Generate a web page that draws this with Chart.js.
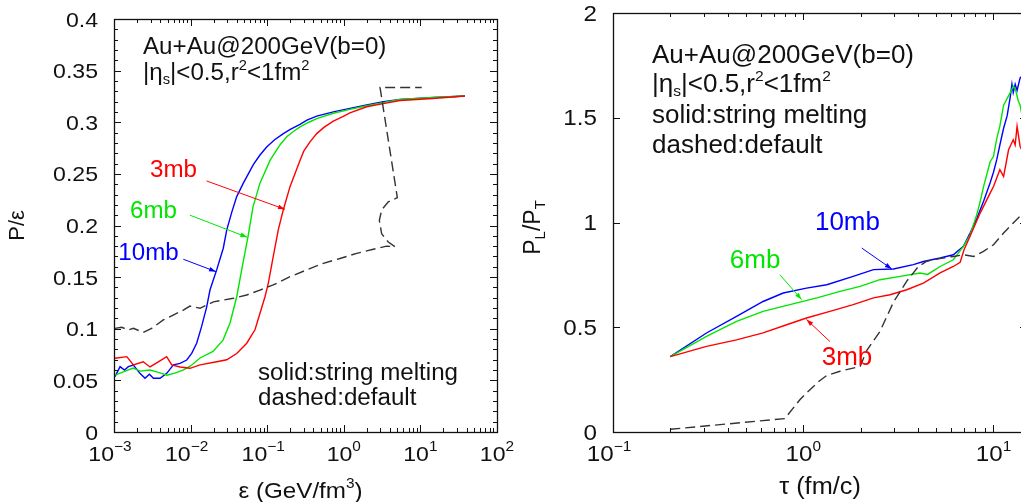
<!DOCTYPE html>
<html><head><meta charset="utf-8">
<script src="https://cdn.jsdelivr.net/npm/chart.js@4/dist/chart.umd.min.js"></script>
<style>
html,body{margin:0;padding:0;overflow:hidden;background:#fff;width:1021px;height:502px;position:relative;}
#c1{position:absolute;left:0;top:0;}
#c2{position:absolute;left:500px;top:0;}
</style></head><body>
<canvas id="c1" width="520" height="502"></canvas>
<canvas id="c2" width="540" height="502"></canvas>
<script>
// ---------- LEFT PANEL DATA : P/eps vs eps ----------
const epsMb10 = [0.00103,0.0012,0.00137,0.00154,0.00179,0.00218,0.00254,0.0029,0.00327,0.00399,0.00488,0.00596,0.00728,0.0089,0.01033,0.012,0.0139,0.0162,0.0179,0.0219,0.0267,0.0296,0.0345,0.04,0.0488,0.0659,0.08,0.0984,0.125,0.1625,0.2,0.268,0.33,0.443,0.73,1.2,1.99,3.28,5.4,14.8,38.2];
const peMb10  = [0.0536,0.0633,0.060,0.0633,0.0649,0.0568,0.052,0.056,0.052,0.052,0.0568,0.065,0.0665,0.0697,0.0762,0.0859,0.102,0.121,0.1375,0.157,0.178,0.1956,0.213,0.228,0.241,0.259,0.268,0.276,0.283,0.289,0.293,0.298,0.302,0.306,0.310,0.3135,0.3167,0.320,0.3222,0.324,0.3254];
const epsMb6 = [0.00103,0.0013,0.00177,0.0022,0.00295,0.0037,0.00492,0.0062,0.00796,0.01,0.01327,0.0196,0.0265,0.0327,0.040,0.0483,0.0561,0.0653,0.0805,0.1088,0.13,0.15,0.18,0.22,0.268,0.35,0.443,0.73,1.2,1.99,3.28,5.4,14.8,38.2];
const peMb6  = [0.055,0.058,0.062,0.059,0.060,0.058,0.055,0.057,0.060,0.064,0.0717,0.078,0.089,0.1056,0.131,0.1637,0.189,0.218,0.241,0.263,0.272,0.279,0.286,0.291,0.2955,0.300,0.3035,0.3087,0.3125,0.316,0.319,0.322,0.324,0.3254];
const epsMb3 = [0.00103,0.00147,0.00179,0.00241,0.00295,0.00379,0.00487,0.00567,0.00728,0.00982,0.01327,0.0219,0.0296,0.040,0.054,0.0693,0.0805,0.0936,0.1033,0.120,0.1397,0.162,0.1985,0.268,0.3,0.362,0.443,0.55,0.73,1.0,1.2,1.99,3.28,5.42,14.5,38.2];
const peMb3  = [0.0714,0.073,0.065,0.068,0.063,0.068,0.073,0.065,0.063,0.0617,0.065,0.068,0.070,0.076,0.086,0.099,0.115,0.131,0.144,0.170,0.196,0.215,0.2376,0.263,0.272,0.281,0.289,0.295,0.301,0.306,0.309,0.315,0.318,0.321,0.323,0.3254];
const epsDef = [0.00103,0.00126,0.00154,0.00179,0.00241,0.0031,0.0044,0.00594,0.00803,0.0098,0.01327,0.0198,0.0361,0.054,0.0805,0.12,0.1985,0.328,0.54,0.891,1.47,2.43,3.62,4.66,3.81,3.12,2.91,3.12,3.81,5.0,2.97,10.4];
const peDef  = [0.1004,0.1014,0.0988,0.1004,0.0965,0.1004,0.1085,0.1133,0.118,0.122,0.1198,0.126,0.1295,0.1327,0.1375,0.1424,0.1504,0.157,0.1634,0.168,0.173,0.177,0.180,0.1795,0.184,0.192,0.205,0.215,0.223,0.227,0.3337,0.3337];
const leftYTicks = [0,0.05,0.1,0.15,0.2,0.25,0.3,0.35,0.4];
const leftYLabels = ["0","0.05","0.1","0.15","0.2","0.25","0.3","0.35","0.4"];
const leftXExps = [-3,-2,-1,0,1,2];

// ---------- RIGHT PANEL DATA : PL/PT vs tau ----------
const tauMb10 = [0.2,0.31,0.446,0.615,0.785,1.04,1.33,1.83,2.34,2.98,3.79,4.28,5.24,6.15,6.95,7.53,8.18,8.86,9.6,10.0,10.4,10.8,11.3,11.8,12.25,12.5,12.7,13.0,13.3,13.8,14.2];
const rMb10   = [0.36,0.4726,0.552,0.623,0.6635,0.687,0.703,0.743,0.775,0.778,0.799,0.814,0.8305,0.846,0.886,0.95,1.02,1.1,1.19,1.24,1.30,1.37,1.45,1.51,1.6,1.66,1.62,1.66,1.63,1.69,1.70];
const tauMb6 = [0.2,0.31,0.446,0.615,0.851,1.18,1.56,1.99,2.53,3.23,4.11,4.5,4.8,5.24,6.15,6.95,7.53,8.18,8.51,8.86,9.6,10.0,10.4,10.8,11.3,12.25,12.7,13.0,13.5,13.8,14.2];
const rMb6   = [0.36,0.456,0.528,0.576,0.608,0.64,0.671,0.695,0.727,0.743,0.759,0.752,0.768,0.79,0.822,0.886,0.94,1.04,1.1,1.17,1.29,1.316,1.40,1.46,1.56,1.62,1.65,1.64,1.58,1.56,1.5];
const tauMb3 = [0.2,0.31,0.446,0.615,0.818,1.04,1.38,1.83,2.34,2.86,3.5,4.28,5.24,6.15,6.68,7.0,7.53,8.51,9.6,10.0,10.8,11.3,12.0,12.7,13.0,13.3,13.8,14.2];
const rMb3   = [0.36,0.409,0.44,0.473,0.512,0.544,0.576,0.608,0.64,0.655,0.679,0.711,0.759,0.79,0.81,0.87,0.934,1.045,1.14,1.172,1.252,1.22,1.347,1.395,1.37,1.459,1.363,1.34];
const tauDef = [0.2,0.8,0.96,1.04,1.22,1.33,1.56,1.99,2.16,2.53,2.98,3.5,4.03,4.46,4.82,5.4,6.15,6.95,7.87,8.86,10.0,11.3,12.7,13.8,14.2];
const rDef   = [0.013,0.064,0.154,0.186,0.245,0.27,0.29,0.313,0.39,0.48,0.62,0.72,0.79,0.815,0.822,0.83,0.838,0.846,0.838,0.862,0.894,0.95,0.998,1.03,1.04];
const rightYTicks = [0,0.5,1,1.5,2];
const rightYLabels = ["0","0.5","1","1.5","2"];
const rightXExps = [-1,0,1];

// label anchors + arrows (data coordinates)
const leftNotes = [
  {t:"3mb", c:"#ff0000", at:[0.00295,0.247], from:[0.0162,0.2431], to:[0.1706,0.2157]},
  {t:"6mb", c:"#00e600", at:[0.00162,0.2073], from:[0.0098,0.21], to:[0.055,0.1886]},
  {t:"10mb", c:"#0000ff", at:[0.00114,0.1666], from:[0.00803,0.1673], to:[0.0215,0.1553]}
];
const rightNotes = [
  {t:"10mb", c:"#0000ff", at:[1.152,0.966], from:[2.03,0.878], to:[2.92,0.778]},
  {t:"6mb", c:"#00e600", at:[0.411,0.783], from:[0.753,0.751], to:[0.98,0.632]},
  {t:"3mb", c:"#ff0000", at:[1.25,0.321], from:[1.38,0.432], to:[1.04,0.537]}
];

const FONT = '"Liberation Sans", Arial, Helvetica, sans-serif';
function pts(xs, ys){ return xs.map((x,i)=>({x:x, y:ys[i]})); }

function rich(ctx, parts, x, y, align, sx){
  let w = 0;
  parts.forEach(p=>{ ctx.font = p.s + 'px ' + FONT; p.w = ctx.measureText(p.t).width * sx; w += p.w; });
  let x0 = align==='center' ? x - w/2 : (align==='right' ? x - w : x);
  parts.forEach(p=>{
    ctx.font = p.s + 'px ' + FONT;
    ctx.save(); ctx.translate(x0, y + (p.dy||0)); ctx.scale(sx,1);
    ctx.textAlign='left'; ctx.textBaseline='alphabetic';
    ctx.fillText(p.t, 0, 0); ctx.restore();
    x0 += p.w;
  });
  return w;
}

function arrow(ctx, x1,y1,x2,y2,color){
  ctx.save(); ctx.strokeStyle=color; ctx.fillStyle=color; ctx.lineWidth=1;
  ctx.beginPath(); ctx.moveTo(x1,y1); ctx.lineTo(x2,y2); ctx.stroke();
  const ang=Math.atan2(y2-y1,x2-x1), L=7, H=2.3;
  ctx.beginPath(); ctx.moveTo(x2,y2);
  ctx.lineTo(x2-L*Math.cos(ang)+H*Math.sin(ang), y2-L*Math.sin(ang)-H*Math.cos(ang));
  ctx.lineTo(x2-L*Math.cos(ang)-H*Math.sin(ang), y2-L*Math.sin(ang)+H*Math.cos(ang));
  ctx.closePath(); ctx.fill(); ctx.restore();
}

function decor(cfg){
  return { id:'decor_'+cfg.name, afterDraw(chart){
    const ctx=chart.ctx, a=chart.chartArea, xs=chart.scales.x, ys=chart.scales.y;
    ctx.save();
    cfg.notes.forEach(n=>{
      arrow(ctx, xs.getPixelForValue(n.from[0]), ys.getPixelForValue(n.from[1]),
                 xs.getPixelForValue(n.to[0]), ys.getPixelForValue(n.to[1]), n.c);
      ctx.fillStyle=n.c;
      rich(ctx,[{t:n.t,s:cfg.noteSize}], xs.getPixelForValue(n.at[0]), ys.getPixelForValue(n.at[1]), 'left', cfg.sx);
    });
    ctx.strokeStyle='#111'; ctx.lineWidth=1.3;
    ctx.strokeRect(Math.round(a.left)+0.5, Math.round(a.top)+0.5, Math.round(a.right-a.left), Math.round(a.bottom-a.top));
    ctx.lineWidth=1;
    const seg=(x1,y1,x2,y2)=>{ctx.beginPath();ctx.moveTo(x1,y1);ctx.lineTo(x2,y2);ctx.stroke();};
    for(let e=cfg.xExps[0]; e<=cfg.xExps[cfg.xExps.length-1]+1; e++){
      for(let k=1;k<=9;k++){
        const v=k*Math.pow(10,e);
        if(v<xs.min*0.999 || v>xs.max*1.001) continue;
        const px=Math.round(xs.getPixelForValue(v))+0.5, len=(k===1)?7:4;
        seg(px,a.bottom,px,a.bottom-len); seg(px,a.top,px,a.top+len);
      }
    }
    cfg.yTicks.forEach(v=>{ const py=Math.round(ys.getPixelForValue(v))+0.5;
      seg(a.left,py,a.left+7,py); seg(a.right,py,a.right-7,py); });
    if(cfg.yMinor){
      const n=Math.round((ys.max-ys.min)/cfg.yMinor);
      for(let i=0;i<=n;i++){ const v=ys.min+i*cfg.yMinor; const py=Math.round(ys.getPixelForValue(v))+0.5;
        seg(a.left,py,a.left+4,py); seg(a.right,py,a.right-4,py); }
    }
    ctx.fillStyle='#111';
    cfg.yTicks.forEach((v,i)=>{ rich(ctx,[{t:cfg.yLabels[i],s:cfg.tickSize}], a.left-16, ys.getPixelForValue(v)+7.5, 'right', cfg.sxTick); });
    cfg.xExps.forEach(e=>{
      const px=xs.getPixelForValue(Math.pow(10,e));
      const neg=e<0;
      rich(ctx,[{t:'10',s:cfg.tickSize},{t:(neg?'\u2212':'')+Math.abs(e),s:14,dy:-10}], px-(neg?4:0), a.bottom+28.5, 'center', cfg.sxTick);
    });
    rich(ctx, cfg.xTitle, (a.left+a.right)/2+cfg.xTitleDx, a.bottom+cfg.xTitleDy, 'center', cfg.sxTick);
    ctx.save(); ctx.translate(cfg.yTitleX, (a.top+a.bottom)/2+cfg.yTitleDy); ctx.rotate(-Math.PI/2);
    rich(ctx, cfg.yTitle, 0, 0, 'center', 1.0); ctx.restore();
    cfg.text.forEach(l=>{ rich(ctx, l.parts, a.left+l.dx, a.top+l.dy, 'left', cfg.sx); });
    ctx.restore();
  }};
}

function ds(xs,ys,color,dash){
  return {data:pts(xs,ys), borderColor:color, borderWidth:1.4, pointRadius:0, tension:0, fill:false, borderDash:dash||[]};
}

const commonScale = (type,min,max)=>({type:type,min:min,max:max,display:false,bounds:'data'});

const S=23, R=25;
new Chart(document.getElementById('c1'), {
  type:'line',
  data:{datasets:[ds(epsDef,peDef,'#333333',[10,5]), ds(epsMb3,peMb3,'#ff0000'), ds(epsMb6,peMb6,'#00e600'), ds(epsMb10,peMb10,'#0000ff')]},
  options:{responsive:false, animation:false, events:[],
    layout:{padding:{left:114,top:19,right:23,bottom:70}},
    plugins:{legend:{display:false},tooltip:{enabled:false}},
    scales:{x:commonScale('logarithmic',1e-3,1e2), y:commonScale('linear',0,0.4)}},
  plugins:[decor({name:'L', notes:leftNotes, noteSize:S, sx:1.05, sxTick:1.1, tickSize:21,
    xExps:leftXExps, yTicks:leftYTicks, yLabels:leftYLabels, yMinor:0.01,
    xTitle:[{t:'\u03b5 (GeV/fm',s:22},{t:'3',s:14,dy:-10},{t:')',s:22}], xTitleDx:-5, xTitleDy:66,
    yTitle:[{t:'P/\u03b5',s:22}], yTitleX:24, yTitleDy:0,
    text:[
      {dx:29, dy:35, parts:[{t:'Au+Au@200GeV(b=0)',s:S}]},
      {dx:29, dy:61, parts:[{t:'|\u03b7',s:S},{t:'s',s:14,dy:4},{t:'|<0.5,r',s:S},{t:'2',s:14,dy:-10},{t:'<1fm',s:S},{t:'2',s:14,dy:-10}]},
      {dx:144, dy:361, parts:[{t:'solid:string melting',s:S}]},
      {dx:144, dy:386, parts:[{t:'dashed:default',s:S}]}
    ]})]
});

new Chart(document.getElementById('c2'), {
  type:'line',
  data:{datasets:[ds(tauDef,rDef,'#333333',[10,5]), ds(tauMb3,rMb3,'#ff0000'), ds(tauMb6,rMb6,'#00e600'), ds(tauMb10,rMb10,'#0000ff')]},
  options:{responsive:false, animation:false, events:[],
    layout:{padding:{left:113,top:13,right:13,bottom:70}},
    plugins:{legend:{display:false},tooltip:{enabled:false}},
    scales:{x:commonScale('logarithmic',0.1,15), y:commonScale('linear',0,2)}},
  plugins:[decor({name:'R', notes:rightNotes, noteSize:R, sx:1.04, sxTick:1.1, tickSize:22,
    xExps:rightXExps, yTicks:rightYTicks, yLabels:rightYLabels, yMinor:0,
    xTitle:[{t:'\u03c4 (fm/c)',s:23}], xTitleDx:0, xTitleDy:62,
    yTitle:[{t:'P',s:23},{t:'L',s:15,dy:5},{t:'/P',s:23},{t:'T',s:15,dy:5}], yTitleX:40, yTitleDy:5,
    text:[
      {dx:39, dy:50, parts:[{t:'Au+Au@200GeV(b=0)',s:R}]},
      {dx:39, dy:79, parts:[{t:'|\u03b7',s:R},{t:'s',s:15,dy:4},{t:'|<0.5,r',s:R},{t:'2',s:15,dy:-11},{t:'<1fm',s:R},{t:'2',s:15,dy:-11}]},
      {dx:39, dy:110, parts:[{t:'solid:string melting',s:R}]},
      {dx:39, dy:140, parts:[{t:'dashed:default',s:R}]}
    ]})]
});
</script>
</body></html>
